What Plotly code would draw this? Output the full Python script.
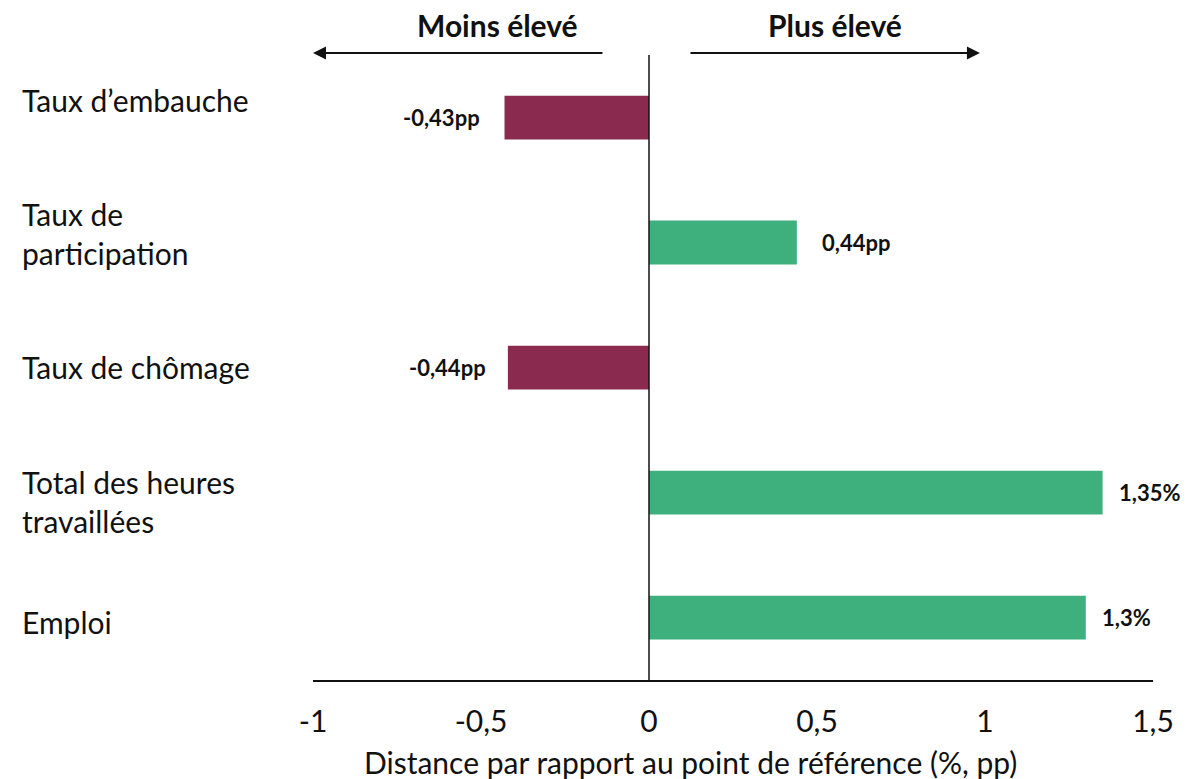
import plotly.graph_objects as go

categories = ["Emploi", "Total des heures<br>travaillées", "Taux de chômage",
              "Taux de<br>participation", "Taux d’embauche"]
values = [1.3, 1.35, -0.42, 0.44, -0.43]
labels = ["1,3%", "1,35%", "-0,44pp", "0,44pp", "-0,43pp"]
x_ticks = [-1, -0.5, 0, 0.5, 1, 1.5]
x_ticktext = ["-1", "-0,5", "0", "0,5", "1", "1,5"]
x_title = "Distance par rapport au point de référence (%, pp)"

# styling offsets (pixels)
label_yshift = [-4, -9, 1, 9, 18]
value_xshift = [14, 14, -20, 23, -23]

POS = "#3DB07E"
NEG = "#8B2A4F"
FONT = "Lato, 'Open Sans', sans-serif"
INK = "#111111"

colors = [POS if v >= 0 else NEG for v in values]
ypos = list(range(len(categories)))

fig = go.Figure(go.Bar(
    x=values, y=ypos, orientation="h", marker=dict(color=colors, line=dict(width=0)),
    width=0.35, hoverinfo="skip", showlegend=False,
))

ann = []
for i, (v, lab) in enumerate(zip(values, labels)):
    ann.append(dict(x=v, y=i, xref="x", yref="y", text=f"<b>{lab}</b>", showarrow=False,
                    xanchor="left" if v >= 0 else "right", yanchor="middle",
                    xshift=value_xshift[i],
                    font=dict(size=22, color=INK, family=FONT)))
for i, (c, s) in enumerate(zip(categories, label_yshift)):
    ann.append(dict(x=0, xref="paper", y=i, yref="y", text=c, showarrow=False,
                    xanchor="left", yanchor="middle", align="left", xshift=-293, yshift=s,
                    font=dict(size=30, color=INK, family=FONT)))

# header texts
ann.append(dict(x=-0.45, xref="x", y=1.0, yref="paper", yshift=30, yanchor="middle",
                text="<b>Moins élevé</b>",
                showarrow=False, font=dict(size=30, color=INK, family=FONT)))
ann.append(dict(x=0.555, xref="x", y=1.0, yref="paper", yshift=30, yanchor="middle",
                text="<b>Plus élevé</b>",
                showarrow=False, font=dict(size=30, color=INK, family=FONT)))
# arrows
ann.append(dict(x=-1.0, y=1.0, xref="x", yref="paper", yshift=2, ax=-0.134, ay=0,
                axref="x", ayref="pixel", showarrow=True, arrowhead=2, arrowsize=1.3,
                arrowwidth=2, arrowcolor=INK, text=""))
ann.append(dict(x=0.985, y=1.0, xref="x", yref="paper", yshift=2, ax=0.119, ay=0,
                axref="x", ayref="pixel", showarrow=True, arrowhead=2, arrowsize=1.3,
                arrowwidth=2, arrowcolor=INK, text=""))
# x-axis title (sits left of the plot centre in the reference)
ann.append(dict(x=0.449, xref="paper", y=0, yref="paper", yshift=-82, yanchor="middle",
                text=x_title, showarrow=False,
                font=dict(size=30, color=INK, family=FONT)))

# page body has an 8px margin: shrink figure and margins accordingly
fig.update_layout(
    width=1190, height=771,
    margin=dict(l=305, r=45, t=47, b=99),
    paper_bgcolor="white", plot_bgcolor="white",
    font=dict(family=FONT, color=INK),
    annotations=ann,
    shapes=[dict(type="line", xref="x", yref="paper", x0=0, x1=0, y0=0, y1=1,
                 line=dict(color=INK, width=1.5))],
    xaxis=dict(range=[-1, 1.5], tickvals=x_ticks, ticktext=x_ticktext,
               showgrid=False, zeroline=False, showline=True, linecolor=INK,
               linewidth=1.5, ticks="", tickfont=dict(size=30, family=FONT, color=INK),
               ticklabelstandoff=14),
    yaxis=dict(range=[-0.5, 4.5], showgrid=False, zeroline=False, showline=False,
               showticklabels=False, ticks=""),
)

fig.write_html("out.html")
